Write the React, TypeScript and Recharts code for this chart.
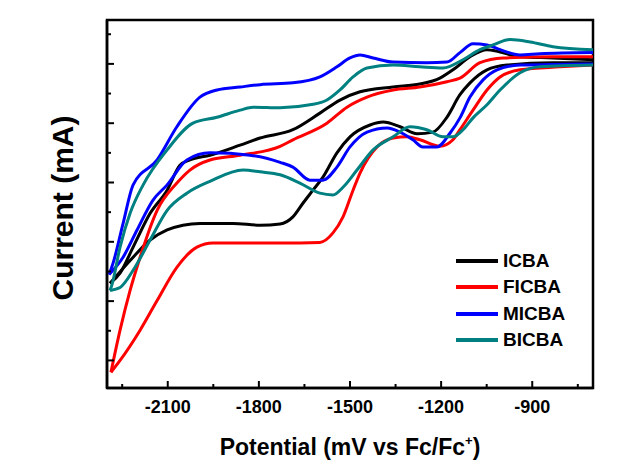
import { LineChart, Line, XAxis, YAxis, Legend, ReferenceArea } from 'recharts';

// potential (mV vs Fc/Fc+) and current (a.u.), upper and lower branch of each CV loop
const icbaUpperPot = [-2290, -2257, -2214, -2158, -2102, -2060, -2027, -1961, -1862, -1796, -1688, -1599, -1533, -1467, -1358, -1270, -1204, -1161, -1105, -1049, -1006, -940, -832, -700];
const icbaUpperCur = [1.3, 1.47, 1.91, 2.48, 2.87, 3.29, 3.38, 3.46, 3.63, 3.75, 3.89, 4.17, 4.39, 4.53, 4.61, 4.66, 4.76, 4.9, 5.12, 5.24, 5.2, 5.12, 5.1, 5.07];
const icbaLowerPot = [-2290, -2214, -2158, -2102, -2050, -1994, -1885, -1796, -1730, -1688, -1655, -1622, -1589, -1543, -1500, -1434, -1391, -1335, -1279, -1227, -1181, -1138, -1105, -1049, -983, -832, -700];
const icbaLowerCur = [1.3, 1.74, 2.03, 2.2, 2.28, 2.31, 2.31, 2.28, 2.3, 2.42, 2.65, 2.87, 3.09, 3.5, 3.77, 3.97, 4.02, 3.94, 3.82, 3.85, 4.1, 4.48, 4.68, 4.9, 4.98, 5.02, 5.02];

const ficbaUpperPot = [-2287, -2257, -2224, -2191, -2135, -2070, -2027, -1961, -1862, -1730, -1688, -1576, -1510, -1444, -1358, -1270, -1181, -1138, -1072, -996, -832, -700];
const ficbaUpperCur = [-0.2, 0.51, 1.18, 1.74, 2.53, 2.99, 3.21, 3.38, 3.46, 3.61, 3.72, 4.0, 4.27, 4.44, 4.56, 4.61, 4.7, 4.76, 5.02, 5.1, 5.12, 5.12];
const ficbaLowerPot = [-2287, -2257, -2191, -2135, -2070, -2004, -1951, -1730, -1599, -1556, -1523, -1490, -1467, -1411, -1358, -1312, -1270, -1204, -1161, -1138, -1095, -1049, -1006, -940, -809, -700];
const ficbaLowerCur = [-0.2, 0, 0.51, 1.01, 1.57, 1.91, 1.98, 1.98, 1.99, 2.15, 2.42, 2.87, 3.16, 3.6, 3.75, 3.77, 3.72, 3.61, 3.72, 3.89, 4.22, 4.56, 4.78, 4.9, 4.95, 4.98];

const micbaUpperPot = [-2293, -2280, -2247, -2214, -2135, -2070, -1994, -1938, -1862, -1796, -1688, -1599, -1543, -1500, -1467, -1424, -1358, -1247, -1181, -1138, -1095, -1049, -1006, -940, -875, -700];
const micbaUpperCur = [1.45, 1.64, 2.31, 2.96, 3.38, 3.94, 4.44, 4.56, 4.61, 4.65, 4.68, 4.78, 4.95, 5.1, 5.15, 5.1, 5.03, 5.02, 5.03, 5.19, 5.34, 5.32, 5.24, 5.15, 5.17, 5.19];
const micbaLowerPot = [-2293, -2247, -2201, -2149, -2102, -2037, -1961, -1829, -1730, -1688, -1632, -1589, -1543, -1500, -1444, -1378, -1335, -1293, -1260, -1214, -1171, -1138, -1105, -1062, -1016, -940, -700];
const micbaLowerCur = [1.45, 1.74, 2.2, 2.7, 2.96, 3.38, 3.5, 3.46, 3.34, 3.26, 3.04, 3.04, 3.26, 3.6, 3.85, 3.92, 3.85, 3.72, 3.6, 3.6, 3.83, 4.09, 4.44, 4.73, 4.9, 4.98, 5.0];

const bicbaUpperPot = [-2290, -2284, -2257, -2224, -2181, -2102, -2017, -1938, -1862, -1819, -1730, -1632, -1576, -1533, -1490, -1444, -1358, -1270, -1194, -1128, -1072, -1029, -973, -907, -832, -700];
const bicbaUpperCur = [1.18, 1.27, 1.91, 2.48, 2.96, 3.55, 4.0, 4.1, 4.22, 4.27, 4.26, 4.31, 4.39, 4.56, 4.78, 4.93, 4.98, 4.95, 4.93, 5.07, 5.24, 5.32, 5.41, 5.37, 5.29, 5.24];
const bicbaLowerPot = [-2290, -2257, -2214, -2158, -2102, -2037, -1961, -1852, -1796, -1730, -1665, -1599, -1556, -1523, -1477, -1424, -1358, -1303, -1247, -1194, -1161, -1128, -1095, -1049, -1006, -940, -875, -700];
const bicbaLowerCur = [1.18, 1.23, 1.52, 2.03, 2.53, 2.82, 3.02, 3.21, 3.18, 3.13, 2.99, 2.82, 2.79, 2.92, 3.21, 3.55, 3.77, 3.94, 3.89, 3.77, 3.77, 3.89, 4.09, 4.31, 4.56, 4.85, 4.95, 4.98];

const xTicks = [-2250, -2100, -1950, -1800, -1650, -1500, -1350, -1200, -1050, -900, -750];
const xLabels = [-2100, -1800, -1500, -1200, -900];
const yTicks = [0, 0.5, 1, 1.5, 2, 2.5, 3, 3.5, 4, 4.5, 5, 5.5];

const FONT = '"Liberation Sans", Arial, sans-serif';
const W = 629;
const H = 469;
const MARGIN = { top: 20, right: 36, left: 47, bottom: 0 };
const Y_AXIS_W = 60;
const X_AXIS_H = 81;
const PLOT_LEFT = MARGIN.left + Y_AXIS_W;
const PLOT_BOTTOM = H - MARGIN.bottom - X_AXIS_H;

const toPoints = (pot: number[], cur: number[]) => pot.map((x, i) => ({ x, y: cur[i] }));

const series = [
  { name: 'ICBA', color: '#000000', upper: toPoints(icbaUpperPot, icbaUpperCur), lower: toPoints(icbaLowerPot, icbaLowerCur) },
  { name: 'FICBA', color: '#ff0000', upper: toPoints(ficbaUpperPot, ficbaUpperCur), lower: toPoints(ficbaLowerPot, ficbaLowerCur) },
  { name: 'MICBA', color: '#0000ff', upper: toPoints(micbaUpperPot, micbaUpperCur), lower: toPoints(micbaLowerPot, micbaLowerCur) },
  { name: 'BICBA', color: '#008080', upper: toPoints(bicbaUpperPot, bicbaUpperCur), lower: toPoints(bicbaLowerPot, bicbaLowerCur) },
];

// ticks point inward, like the original plot
function XTick(props: any) {
  const { x, payload } = props;
  const major = xLabels.includes(payload.value);
  return (
    <g>
      <line x1={x} x2={x} y1={PLOT_BOTTOM} y2={PLOT_BOTTOM - (major ? 7 : 4)} stroke="#000" strokeWidth={2} />
      {major && (
        <text x={x} y={PLOT_BOTTOM + 25} textAnchor="middle" fontFamily={FONT} fontWeight="bold" fontSize={18} fill="#000">
          {payload.value}
        </text>
      )}
    </g>
  );
}

function YTick(props: any) {
  const { y, payload } = props;
  const major = Number.isInteger(payload.value);
  return <line x1={PLOT_LEFT} x2={PLOT_LEFT + (major ? 7 : 4)} y1={y} y2={y} stroke="#000" strokeWidth={2} />;
}

const xTitle = () => (
  <text x={350} y={455} textAnchor="middle" fontFamily={FONT} fontWeight="bold" fontSize={23} fill="#000">
    Potential (mV vs Fc/Fc
    <tspan fontSize={13} dy={-10}>+</tspan>
    <tspan dy={10}>)</tspan>
  </text>
);

const yTitle = () => (
  <text x={62} y={208} transform="rotate(-90 62 208)" textAnchor="middle" dominantBaseline="central" fontFamily={FONT} fontWeight="bold" fontSize={30} fill="#000">
    Current (mA)
  </text>
);

const renderLegend = () => (
  <div style={{ fontFamily: FONT, fontWeight: 'bold', fontSize: 19, color: '#000' }}>
    {series.map((s) => (
      <div key={s.name} style={{ display: 'flex', alignItems: 'center', height: 26.3 }}>
        <span style={{ display: 'inline-block', width: 42, height: 4, background: s.color, marginRight: 5 }} />
        <span>{s.name}</span>
      </div>
    ))}
  </div>
);

export default function App() {
  return (
    <div style={{ position: 'absolute', left: 0, top: 0, width: W, height: H, background: '#fff' }}>
      <LineChart width={W} height={H} margin={MARGIN}>
        <XAxis
          type="number"
          dataKey="x"
          domain={[-2300, -700]}
          ticks={xTicks}
          interval={0}
          allowDataOverflow
          height={X_AXIS_H}
          tickSize={0}
          tickMargin={0}
          tickLine={false}
          tick={<XTick />}
          axisLine={{ stroke: '#000', strokeWidth: 2.5 }}
          label={xTitle}
        />
        <YAxis
          type="number"
          dataKey="y"
          domain={[-0.465, 5.74]}
          ticks={yTicks}
          interval={0}
          allowDataOverflow
          width={Y_AXIS_W}
          tickSize={0}
          tickMargin={0}
          tickLine={false}
          tick={<YTick />}
          axisLine={{ stroke: '#000', strokeWidth: 2.5 }}
          label={yTitle}
        />
        <ReferenceArea x1={-2300} x2={-700} y1={-0.465} y2={5.74} fill="none" stroke="#000" strokeWidth={2.5} ifOverflow="visible" />
        {series.flatMap((s) => [
          <Line
            key={s.name + '-up'}
            name={s.name}
            data={s.upper}
            dataKey="y"
            type="monotone"
            stroke={s.color}
            strokeWidth={3}
            dot={false}
            isAnimationActive={false}
          />,
          <Line
            key={s.name + '-low'}
            name={s.name + ' return'}
            data={s.lower}
            dataKey="y"
            type="monotone"
            stroke={s.color}
            strokeWidth={3}
            dot={false}
            legendType="none"
            isAnimationActive={false}
          />,
        ])}
        <Legend
          layout="vertical"
          align="center"
          verticalAlign="middle"
          content={renderLegend}
          wrapperStyle={{ left: 456, top: 248, width: 140 }}
        />
      </LineChart>
    </div>
  );
}
